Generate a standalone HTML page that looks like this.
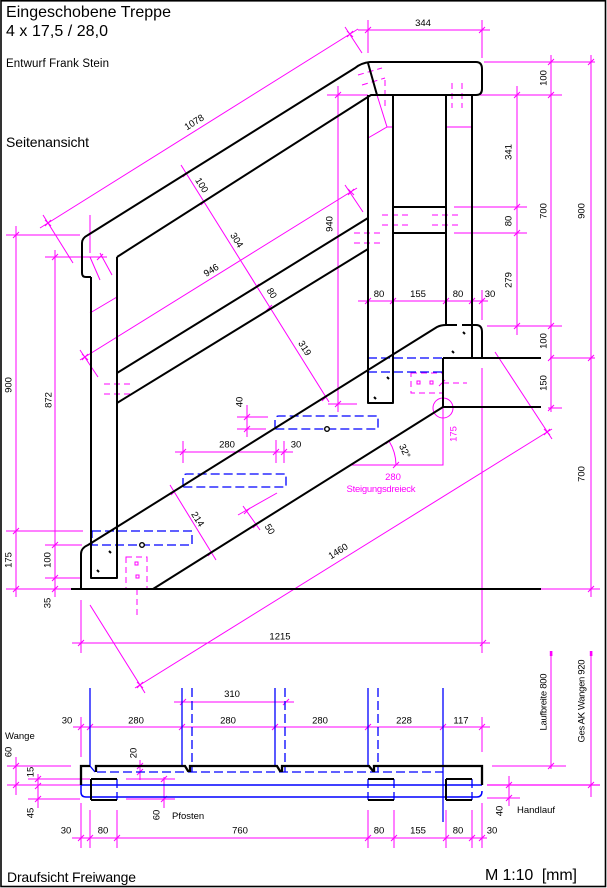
<!DOCTYPE html>
<html><head><meta charset="utf-8"><style>
html,body{margin:0;padding:0;background:#fff;}
svg{display:block}
text{font-family:"Liberation Sans",Arial,sans-serif;}
.d{font-size:9.5px;fill:#000;text-anchor:middle}
.m{font-size:9.5px;fill:#f0f;text-anchor:middle}
.l{font-size:9.5px;fill:#000}
</style></head><body>
<svg width="607" height="888" viewBox="0 0 607 888" xmlns="http://www.w3.org/2000/svg">
<rect x="0" y="0" width="607" height="888" fill="#fff"/>
<rect x="1" y="0.8" width="604.5" height="885.7" fill="none" stroke="#000" stroke-width="1.6"/>

<!-- titles -->
<text x="6" y="17" font-size="16" textLength="165">Eingeschobene Treppe</text>
<text x="6" y="36" font-size="16" textLength="102" xml:space="preserve">4 x 17,5 / 28,0</text>
<text x="6" y="67" font-size="11.5" textLength="103">Entwurf Frank Stein</text>
<text x="6" y="147" font-size="14" textLength="83">Seitenansicht</text>
<text x="7" y="882" font-size="14" textLength="129">Draufsicht Freiwange</text>
<text x="485" y="880" font-size="16" textLength="92" xml:space="preserve">M 1:10  [mm]</text>

<!-- magenta solid lines -->
<g stroke="#f0f" stroke-width="1" fill="none">
<path d="M358 30H490 M368 20V53 M482 20V58
M40 228L358 29 M43 215L73 263 M345 27L362 53
M181 165L329 402
M80 360L357 188 M80 350L98 377 M345 185L363 212
M338 86V412 M327 95H368 M328 404H357
M517 86V335 M480 95H562 M454 207H527 M454 233H527 M487 326H562
M551 55V412 M484 62H595 M550 358H595 M548 408H562
M591 55V597 M491 589H600
M16 226V597 M6 235H80 M6 531H83 M6 589H72
M55 250V597 M45 257H107 M45 545H82 M45 578H80
M358 301H488 M482 290V320
M90 215V253 M90 257L100 280 M100 253L112 275 M90 313L117 297
M377 95L387 127 M368 138L387 127 M387 127H394 M446 127H472
M170 485L216 560
M243 506L260 530 M238 515L277 493
M175 452H293 M183 441V463 M276 440V463 M284 441V463
M247 405V437 M237 417H268 M237 429H266
M443 407V465H350
M389 441A46 46 0 0 1 396 465
M72 643H490 M81 600V653 M482 368V653
M135 688L552 429 M90 605L145 693 M495 352L552 439
M174 702H294
M73 727H490 M81 717V757 M482 717V752
M16 757V795 M7 766H71 M7 785H80
M38 774V808 M28 779H90 M28 799H80
M140 760V780 M106 766H150
M164 777V808 M126 779H175 M126 799H175
M72 838H487 M81 803V848 M90 810V848 M117 810V848 M368 810V848 M394 810V848 M446 810V848 M472 810V848 M482 803V848
M509 776V806 M487 798H520
M551 652V769 M492 766H566
M591 652V797"/>
<path d="M487 785H600" stroke-width="1.3"/>
<circle cx="443" cy="408" r="10"/>
<rect x="135" y="562" width="3" height="3"/>
<rect x="136" y="575" width="3" height="3"/>
<rect x="417" y="381" width="3" height="3"/>
<rect x="430" y="381" width="3" height="3"/>
<!-- ticks -->
<path d="M365 33l6-6 M479 33l6-6 M45 226l6-6 M347 37l6-6 M45 220l6 6 M347 31l6 6
M183 177l6-6 M201 205l6-6 M253 290l6-6 M266 311l6-6 M322 401l6-6
M82 360l6-6 M348 195l6-6 M82 354l6 6 M348 189l6 6
M335 98l6-6 M335 407l6-6
M514 98l6-6 M514 210l6-6 M514 236l6-6 M514 329l6-6
M548 65l6-6 M548 98l6-6 M548 329l6-6 M548 361l6-6 M548 411l6-6
M588 65l6-6 M588 361l6-6 M588 592l6-6
M13 238l6-6 M13 534l6-6 M13 592l6-6
M52 260l6-6 M52 548l6-6 M52 581l6-6 M52 592l6-6
M365 304l6-6 M390 304l6-6 M443 304l6-6 M469 304l6-6 M479 304l6-6
M171 495l6-6 M208 556l6-6 M244 514l6-6 M253 528l6-6
M180 455l6-6 M273 455l6-6 M281 455l6-6
M244 420l6-6 M244 432l6-6
M78 646l6-6 M480 646l6-6
M137 688l6-6 M544 435l6-6 M137 682l6 6 M544 429l6 6
M97 260l6-6 M439 386l6-6 M386 444l6-6 M393 468l6-6
M180 705l6-6 M283 705l6-6
M78 730l6-6 M87 730l6-6 M179 730l6-6 M272 730l6-6 M365 730l6-6 M440 730l6-6 M479 730l6-6
M13 769l6-6 M13 788l6-6
M35 782l6-6 M35 789l6-6 M35 802l6-6
M137 769l6-6 M137 775l6-6
M161 782l6-6 M161 802l6-6
M78 841l6-6 M87 841l6-6 M114 841l6-6 M365 841l6-6 M391 841l6-6 M443 841l6-6 M469 841l6-6 M479 841l6-6
M506 788l6-6 M506 801l6-6
M548 769l6-6 M588 788l6-6"/>
</g>
<rect x="549.8" y="651" width="2.6" height="5" fill="#f0f"/>
<rect x="589.8" y="651" width="2.6" height="5" fill="#f0f"/>

<!-- magenta dashed -->
<g stroke="#f0f" stroke-width="1" fill="none" stroke-dasharray="6 4">
<path d="M358 75L382 68 M362 85L385 78 M385 80V108 M452 83V108 M462 83V108
M382 215H408 M432 215H458 M382 225H408 M432 225H458
M354 233H380 M354 243H380
M104 384H130 M104 394H130
M137 589V617 M443 383H467"/>
<rect x="126" y="557" width="21" height="32"/>
<rect x="411" y="373" width="32" height="20"/>
</g>

<!-- blue dashed treads -->
<g stroke="#00f" stroke-width="1.3" fill="none" stroke-dasharray="9 4">
<path d="M92 531H192V545H92Z"/>
<path d="M183 487V478Q183 474 187 474H286V487Z"/>
<path d="M275 429V420Q275 416 279 416H378V429Z"/>
<path d="M368 358H443 M368 372H443"/>
<path d="M192 688V772 M285 688V772 M378 688V772 M97 772H443 M117 779V800 M368 779V800 M394 779V800 M472 779V800"/>
</g>
<!-- blue solid plan -->
<g stroke="#00f" stroke-width="1.3" fill="none">
<path d="M90 688V766 M182 688V766 M275 688V766 M368 688V766 M443 688V822 M90 766L95 772"/>
<path d="M81 785H482 M81 785V792Q81 797 86 797H477Q482 797 482 791" stroke-width="1.5"/>
</g>

<!-- black side view -->
<g stroke="#000" stroke-width="2" fill="none" stroke-linejoin="round">
<path d="M91 277H86Q82 277 82 273V243Q82 238 88 235L355 68Q361 63 370 62H476Q482 62 482 69V89Q482 95 476 95H371L117 257"/>
<path d="M368 63L377 95"/>
<path d="M91 277V578H117V257"/>
<path d="M368 95V403H393V95"/>
<path d="M446 95V326 M472 95V358"/>
<path d="M393 207H446 M393 233H446"/>
<path d="M117 373L368 218 M117 403L368 249"/>
<path d="M81 589V554Q81 548 88 545L437 327Q441 325 446 325H457 M462 325H476Q482 325 482 332V358"/>
<path d="M153 589L443 407H541"/>
<path d="M443 358H541 M443 358V407"/>
<path d="M71 589H541"/>
<path d="M109 551l2 2 M97 570l2 2 M387 377l2 2 M374 397l2 2 M463 332l2 2 M452 351l2 2"/>
</g>
<circle cx="142" cy="545" r="2.3" fill="#fff" stroke="#000" stroke-width="1.4"/>
<circle cx="327" cy="429" r="2.3" fill="#fff" stroke="#000" stroke-width="1.4"/>

<!-- black plan -->
<g stroke="#000" stroke-width="2.3" fill="none">
<path d="M81 785V766H90 M96 772V766H185L188 771H190V766H277L280 771H282V766H369L373 771H374V766H482V785"/>
<path d="M91 779H117 M91 800H117 M91 779V800 M368 779H394 M368 800H394 M446 779H472 M446 800H472 M446 779V800" stroke-width="2"/>
</g>

<!-- dimension labels side view -->
<text class="d" x="423" y="26">344</text>
<text class="d" transform="translate(194 122) rotate(-32)" y="3.4">1078</text>
<text class="d" transform="translate(202 185) rotate(58)" y="3.4">100</text>
<text class="d" transform="translate(237 240) rotate(58)" y="3.4">304</text>
<text class="d" transform="translate(272 293) rotate(58)" y="3.4">80</text>
<text class="d" transform="translate(305 348) rotate(58)" y="3.4">319</text>
<text class="d" transform="translate(211 270) rotate(-32)" y="3.4">946</text>
<text class="d" transform="translate(329 224) rotate(-90)" y="3.4">940</text>
<text class="d" transform="translate(508 152) rotate(-90)" y="3.4">341</text>
<text class="d" transform="translate(508 221) rotate(-90)" y="3.4">80</text>
<text class="d" transform="translate(508 280) rotate(-90)" y="3.4">279</text>
<text class="d" transform="translate(543 78) rotate(-90)" y="3.4">100</text>
<text class="d" transform="translate(543 211) rotate(-90)" y="3.4">700</text>
<text class="d" transform="translate(543 341) rotate(-90)" y="3.4">100</text>
<text class="d" transform="translate(543 383) rotate(-90)" y="3.4">150</text>
<text class="d" transform="translate(581 211) rotate(-90)" y="3.4">900</text>
<text class="d" transform="translate(581 474) rotate(-90)" y="3.4">700</text>
<text class="d" transform="translate(8 385) rotate(-90)" y="3.4">900</text>
<text class="d" transform="translate(8 560) rotate(-90)" y="3.4">175</text>
<text class="d" transform="translate(48 400) rotate(-90)" y="3.4">872</text>
<text class="d" transform="translate(47 560) rotate(-90)" y="3.4">100</text>
<text class="d" transform="translate(47 603) rotate(-90)" y="3.4">35</text>
<text class="d" x="379" y="297">80</text>
<text class="d" x="418" y="297">155</text>
<text class="d" x="458" y="297">80</text>
<text class="d" x="490" y="297">30</text>
<text class="d" transform="translate(239 402) rotate(-90)" y="3.4">40</text>
<text class="d" x="227" y="447.5">280</text>
<text class="d" x="296" y="447.5">30</text>
<text class="d" transform="translate(198 519) rotate(58)" y="3.4">214</text>
<text class="d" transform="translate(270 529) rotate(58)" y="3.4">50</text>
<text class="d" transform="translate(405 451) rotate(65)" y="3.4">32°</text>
<text class="d" x="280" y="639.5">1215</text>
<text class="d" transform="translate(338 551) rotate(-32)" y="3.4">1460</text>
<text class="m" transform="translate(453 434) rotate(-90)" y="3.4">175</text>
<text class="m" x="393" y="480">280</text>
<text class="m" x="381" y="492" textLength="69">Steigungsdreieck</text>

<!-- plan labels -->
<text class="d" x="232" y="697">310</text>
<text class="d" x="67" y="723.5">30</text>
<text class="d" x="136" y="723.5">280</text>
<text class="d" x="228" y="723.5">280</text>
<text class="d" x="320" y="723.5">280</text>
<text class="d" x="404" y="723.5">228</text>
<text class="d" x="461" y="723.5">117</text>
<text class="l" x="5" y="739">Wange</text>
<text class="d" transform="translate(8 752) rotate(-90)" y="3.4">60</text>
<text class="d" transform="translate(30 772) rotate(-90)" y="3.4">15</text>
<text class="d" transform="translate(30 813) rotate(-90)" y="3.4">45</text>
<text class="d" transform="translate(133 753) rotate(-90)" y="3.4">20</text>
<text class="d" transform="translate(156 815) rotate(-90)" y="3.4">60</text>
<text class="l" x="172" y="819">Pfosten</text>
<text class="d" x="66" y="833.5">30</text>
<text class="d" x="103" y="833.5">80</text>
<text class="d" x="240" y="833.5">760</text>
<text class="d" x="379" y="833.5">80</text>
<text class="d" x="418" y="833.5">155</text>
<text class="d" x="458" y="833.5">80</text>
<text class="d" x="492" y="833.5">30</text>
<text class="l" x="517" y="813">Handlauf</text>
<text class="d" transform="translate(499 811) rotate(-90)" y="3.4">40</text>
<text class="d" transform="translate(543 702) rotate(-90)" y="3.4" textLength="57">Laufbreite 800</text>
<text class="d" transform="translate(581 701) rotate(-90)" y="3.4" textLength="83">Ges AK Wangen 920</text>
</svg>
</body></html>
